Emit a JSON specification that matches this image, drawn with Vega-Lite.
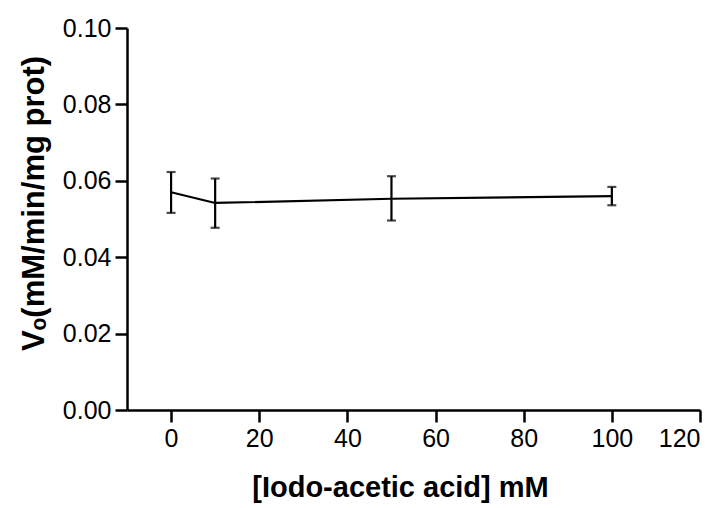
{
  "$schema": "https://vega.github.io/schema/vega-lite/v6.json",
  "width": 573,
  "height": 382,
  "autosize": "none",
  "padding": {"left": 127, "top": 28, "right": 22, "bottom": 98},
  "background": "white",
  "config": {
    "view": {"stroke": null},
    "font": "Liberation Sans",
    "axis": {
      "grid": false,
      "domainColor": "black",
      "domainWidth": 2.5,
      "tickColor": "black",
      "tickWidth": 2.5,
      "tickSize": 12,
      "labelColor": "black",
      "labelFont": "Liberation Sans",
      "labelFontSize": 25,
      "titleColor": "black",
      "titleFont": "Liberation Sans",
      "titleFontWeight": "bold"
    }
  },
  "data": {
    "values": [
      {"conc": 0, "vo": 0.0570, "lo": 0.0516, "hi": 0.0623},
      {"conc": 10, "vo": 0.0542, "lo": 0.0477, "hi": 0.0606},
      {"conc": 50, "vo": 0.0553, "lo": 0.0496, "hi": 0.0612},
      {"conc": 100, "vo": 0.0560, "lo": 0.0536, "hi": 0.0584}
    ]
  },
  "layer": [
    {
      "mark": {"type": "line", "color": "black", "strokeWidth": 2.2},
      "encoding": {
        "x": {
          "field": "conc",
          "type": "quantitative",
          "scale": {"domain": [-10, 120], "nice": false, "zero": false},
          "axis": {
            "values": [0, 20, 40, 60, 80, 100, 120],
            "labelPadding": 4,
            "title": "[Iodo-acetic acid] mM",
            "titleFontSize": 29,
            "titlePadding": 22,
            "titleX": 273
          }
        },
        "y": {
          "field": "vo",
          "type": "quantitative",
          "scale": {"domain": [0, 0.1], "nice": false},
          "axis": {
            "values": [0, 0.02, 0.04, 0.06, 0.08, 0.1],
            "format": ".2f",
            "labelPadding": 4,
            "title": "Vₒ(mM/min/mg prot)",
            "titleFontSize": 31,
            "titlePadding": 12,
            "titleY": 175
          }
        }
      }
    },
    {
      "mark": {
        "type": "errorbar",
        "ticks": {"size": 9, "thickness": 2.2, "color": "black"},
        "rule": {"color": "black", "strokeWidth": 2.2}
      },
      "encoding": {
        "x": {"field": "conc", "type": "quantitative"},
        "y": {"field": "lo", "type": "quantitative", "title": "Vₒ(mM/min/mg prot)"},
        "y2": {"field": "hi"}
      }
    }
  ]
}
